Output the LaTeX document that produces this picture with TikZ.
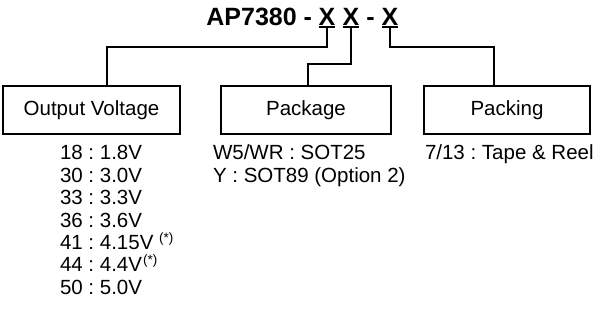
\documentclass[tikz,border=0pt]{standalone}
\usepackage{fontspec}
\setmainfont{Liberation Sans}
\frenchspacing
\begin{document}
\begin{tikzpicture}[x=1pt,y=-1pt,
  every node/.style={inner sep=0pt, outer sep=0pt},
  title/.style={font=\fontsize{25}{30}\selectfont\bfseries, anchor=base},
  box/.style={draw, line width=1.3pt, minimum height=48pt, font=\fontsize{20.5}{24}\selectfont},
  lst/.style={font=\fontsize{20.5}{24}\selectfont, anchor=base west},
  conn/.style={line width=1.3pt},
  uline/.style={line width=1.8pt}]
\useasboundingbox (0,0) rectangle (600,320);
% title
\node[title, anchor=base east] (t) at (312,26) {AP7380 -};
\node[title] (x1) at (327,26) {X};
\node[title] (x2) at (351,26) {X};
\node[title] (dash) at (370.5,26) {-};
\node[title] (x3) at (390,26) {X};
\foreach \n in {x1,x2,x3}
  \draw[uline] ([yshift=-1pt]\n.south west) -- ([yshift=-1pt]\n.south east);
% boxes
\node[box, minimum width=177pt] (b1) at (91.5,110) {Output Voltage};
\node[box, minimum width=170pt] (b2) at (306,110) {Package};
\node[box, minimum width=166pt] (b3) at (507,110) {Packing};
% connectors
\coordinate (k1) at (107,47);
\coordinate (k2) at (308,64);
\coordinate (k3) at (494,47);
\draw[conn] ([yshift=-1pt]x1.south) |- (k1) -- (k1 |- b1.north);
\draw[conn] ([yshift=-1pt]x2.south) |- (k2) -- (k2 |- b2.north);
\draw[conn] ([yshift=-1pt]x3.south) |- (k3) -- (k3 |- b3.north);
% lists
\node[lst] (v1) at (60,160.0) {18 : 1.8V};
\node[lst] (v2) at (60,182.4) {30 : 3.0V};
\node[lst] (v3) at (60,204.8) {33 : 3.3V};
\node[lst] (v4) at (60,227.2) {36 : 3.6V};
\node[lst] (v5) at (60,249.6) {41 : 4.15V \raisebox{7pt}{\fontsize{13.5}{13.5}\selectfont(*)}};
\node[lst] (v6) at (60,272.0) {44 : 4.4V\kern1pt\raisebox{7pt}{\fontsize{13.5}{13.5}\selectfont(*)}};
\node[lst] (v7) at (60,294.4) {50 : 5.0V};
\node[lst] (p1) at (213,160.0) {W5/WR : SOT25};
\node[lst] (p2) at (213,182.4) {Y : SOT89 (Option 2)};
\node[lst] (q1) at (425,160.0) {7/13 : Tape \& Reel};
\end{tikzpicture}
\end{document}
